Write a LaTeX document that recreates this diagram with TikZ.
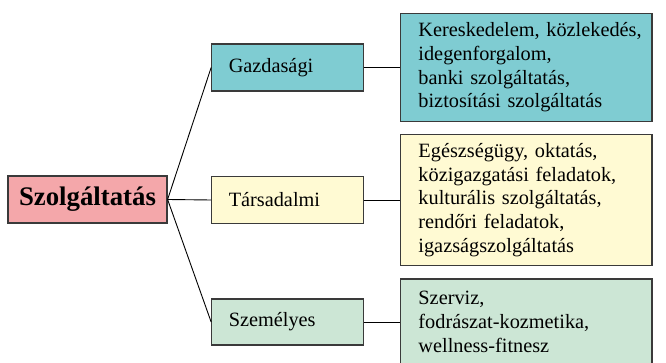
\documentclass[tikz,border=0pt]{standalone}
\usepackage{fontspec}
\setmainfont{Liberation Serif}
\usepackage{xcolor}
\usepackage{tikz}
\usetikzlibrary{positioning}
\definecolor{rootpink}{HTML}{F4A7AA}
\definecolor{ecoteal}{HTML}{7FCCD2}
\definecolor{socyellow}{HTML}{FFFAD3}
\definecolor{persgreen}{HTML}{CCE6D5}
\definecolor{edgegray}{HTML}{3A3A3A}
\tikzset{
	rootbox/.style={draw=edgegray, line width=1.2pt, minimum width=159pt, minimum height=47pt, inner sep=0pt, font=\fontsize{26.8}{30}\selectfont\bfseries},
	catbox/.style={draw=edgegray, line width=1.2pt, text width=117.5pt, inner xsep=17pt, inner ysep=0pt, minimum height=47pt, align=left, font=\fontsize{20.3}{23.7}\selectfont},
	listbox/.style={draw=edgegray, line width=1.2pt, text width=233.5pt, inner xsep=9pt, inner ysep=0pt, align=left, execute at begin node={\leftskip=9pt}, font=\fontsize{20.3}{23.7}\selectfont},
	link/.style={line width=0.9pt}
}
\begin{document}
\begin{tikzpicture}[x=1pt, y=-1pt, node distance=10mm and 36pt]
	\clip (0,0) rectangle (666,363);
	\node[rootbox, fill=rootpink] (root) at (87.5,199.5) {Szolgáltatás};
	\node[catbox, fill=ecoteal] (gaz) at (287.5,67.5) {Gazdasági};
	\node[catbox, fill=socyellow] (tars) at (287.5,200) {Társadalmi};
	\node[catbox, fill=persgreen, minimum height=46pt] (szem) at (287.5,322) {Személyes};
	
	\node[listbox, fill=ecoteal, minimum height=108pt, right=of gaz] (gazlist) {Kereskedelem, közlekedés,\\idegenforgalom,\\banki szolgáltatás,\\biztosítási szolgáltatás};
	\node[listbox, fill=socyellow, minimum height=130.5pt, right=of tars] (tarslist) {Egészségügy, oktatás,\\közigazgatási feladatok,\\kulturális szolgáltatás,\\rendőri feladatok,\\igazságszolgáltatás};
	\node[listbox, fill=persgreen, minimum height=86pt, right=of szem] (szemlist) {Szerviz,\\fodrászat-kozmetika,\\wellness-fitnesz};
	
	\draw[link] (root.east) -- (gaz.west);
	\draw[link] (root.east) -- (tars.west);
	\draw[link] (root.east) -- (szem.west);
	\draw[link] (gaz.east) -- (gazlist.west);
	\draw[link] (tars.east) -- (tarslist.west);
	\draw[link] (szem.east) -- (szemlist.west);
\end{tikzpicture}
\end{document}
